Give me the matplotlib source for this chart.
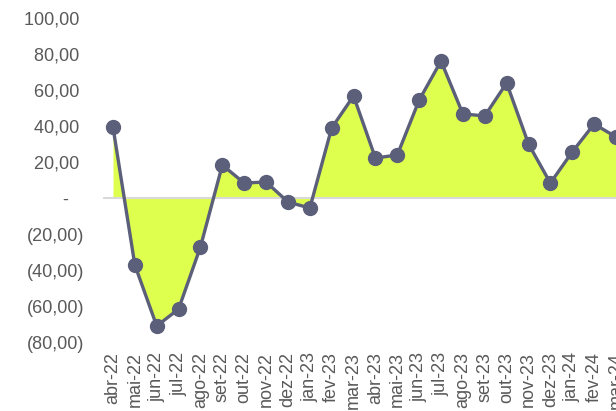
import matplotlib
matplotlib.use("Agg")
import matplotlib.pyplot as plt
import numpy as np

categories = ["abr-22", "mai-22", "jun-22", "jul-22", "ago-22", "set-22", "out-22", "nov-22",
              "dez-22", "jan-23", "fev-23", "mar-23", "abr-23", "mai-23", "jun-23", "jul-23",
              "ago-23", "set-23", "out-23", "nov-23", "dez-23", "jan-24", "fev-24", "mar-24"]
values = [39.4, -37.2, -71.1, -61.7, -27.2, 18.3, 8.3, 8.9,
          -2.2, -5.6, 38.9, 56.7, 22.2, 23.9, 54.4, 76.1,
          46.7, 45.6, 63.9, 30.0, 8.3, 25.6, 41.1, 33.9]
yticks = [100, 80, 60, 40, 20, 0, -20, -40, -60, -80]

def fmt(v):
    if v == 0:
        return "-   "
    if v < 0:
        return "(" + f"{abs(v):.2f}".replace(".", ",") + ")"
    return f"{v:.2f}".replace(".", ",") + " "

plt.rcParams['font.family'] = ['Liberation Sans', 'DejaVu Sans']
fig = plt.figure(figsize=(6.16, 4.11), dpi=100)
ax = fig.add_axes([103/616, (411-342)/411, 1 - 103/616, (342-18)/411])

x = np.arange(len(categories))
ax.fill_between(x, values, 0, color="#DFFF4F", linewidth=0, zorder=1)
ax.axhline(0, color="#D9D9D9", linewidth=1.5, zorder=2)
ax.plot(x, values, color="#5B5F7A", linewidth=2.4, marker="o", markersize=10,
        zorder=3)

ax.set_xlim(-0.456, 22.97)
ax.set_ylim(-80, 100)
ax.set_yticks(yticks)
ax.set_yticklabels([fmt(v) for v in yticks])
ax.set_xticks(x)
ax.set_xticklabels(categories, rotation=90)
ax.tick_params(axis="y", length=0, pad=13.5, labelsize=13, labelcolor="#595959")
ax.tick_params(axis="x", length=0, pad=7, labelsize=13, labelcolor="#595959")
for s in ax.spines.values():
    s.set_visible(False)

fig.savefig("out.png", dpi=100)
